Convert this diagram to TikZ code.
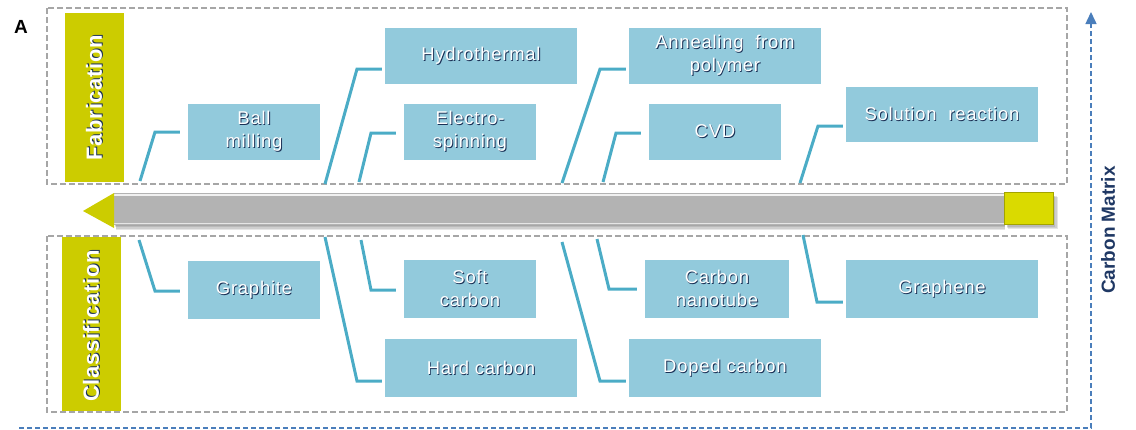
\documentclass[tikz,border=0pt]{standalone}
\usepackage{fontspec}
\setmainfont{Liberation Sans}
\usetikzlibrary{arrows.meta}
\definecolor{boxblue}{HTML}{92CADC}
\definecolor{connc}{HTML}{4BACC6}
\definecolor{olivebar}{HTML}{CCCC00}
\definecolor{sqyellow}{HTML}{DADA00}
\definecolor{dashgray}{HTML}{A6A6A6}
\definecolor{axisblue}{HTML}{4A7EBB}
\definecolor{navy}{HTML}{1F3864}
\definecolor{bargray}{HTML}{B3B3B3}
\newcommand\sh[1]{\leavevmode\rlap{\kern0.9pt\raisebox{-0.8pt}{\color{navy!85!black}#1}}#1}
\tikzset{
  box/.style={fill=boxblue, text=white, inner sep=0pt, align=center,
    font=\fontsize{18.5}{23}\selectfont\addfontfeature{LetterSpace=4}},
  conn/.style={draw=connc, line width=3pt},
  gapS/.style={shorten >=3pt},
  gapL/.style={shorten >=8pt},
  ybar/.style={fill=olivebar, inner sep=0pt},
  vlabel/.style={rotate=90, text=white, font=\fontsize{22}{26}\selectfont\bfseries\addfontfeature{LetterSpace=3}},
  dbox/.style={draw=dashgray, line width=1.3pt, dash pattern=on 6pt off 3pt},
  softshadow/.style={fill=black, opacity=0.10},
}
\begin{document}
\begin{tikzpicture}[x=1pt,y=-1pt]
\useasboundingbox (0,0) rectangle (1136,429);
% panel label
\node[font=\fontsize{19}{22}\selectfont\bfseries] (lblA) at (21,27) {A};
% dashed frames
\draw[dbox] (47,8) rectangle (1067,184);
\draw[dbox] (47,236) rectangle (1067,412);
% side bars
\node[ybar, minimum width=59pt, minimum height=169pt] (fab) at (94.5,97.5) {};
\node[vlabel] (fabt) at (fab.center) {\sh{Fabrication}};
\node[ybar, minimum width=59pt, minimum height=174pt] (cls) at (91.5,324) {};
\node[vlabel] (clst) at (91.5,326) {\sh{Classification}};
% big arrow: soft shadows
\foreach \d in {1,2,3,4} {
  \fill[softshadow] (114+\d*0.5,196+\d*0.4) rectangle (1005,225+\d*1.2);
  \fill[softshadow] (1006+\d*0.4,195+\d*0.4) rectangle (1053+\d*1.2,224+\d*1.3);
}
\fill[bargray] (114,193) rectangle (1005,225);
\draw[white!88!gray, line width=2pt] (114,194.5) -- (1005,194.5);
\draw[white!80!gray, line width=1pt] (114,223.5) -- (1005,223.5);
\fill[olivebar] (83,211) -- (114,193) -- (114,228) -- cycle;
\fill[sqyellow, draw=olivebar!80!black, line width=0.6pt] (1004,192) rectangle (1053,224);
% axis
\coordinate (ax0) at (19,428);
\coordinate (ax1) at (1091,428);
\coordinate (ax2) at (1091,12);
\draw[axisblue, line width=1.5pt, dash pattern=on 5pt off 3pt, -{Triangle[width=11pt,length=12pt]}] (ax0) -- (ax1) -- (ax2);
\node[rotate=90, text=navy, font=\fontsize{19}{22}\selectfont\bfseries] (cm) at (1108,230) {Carbon Matrix};
% boxes
\node[box, minimum width=132pt, minimum height=56pt] (ball) at (254,132) {\sh{Ball}\\\sh{milling}};
\node[box, minimum width=192pt, minimum height=56pt] (hydro) at (481,56) {\sh{Hydrothermal}};
\node[box, minimum width=132pt, minimum height=56pt] (elec) at (470,132) {\sh{Electro-}\\\sh{spinning}};
\node[box, minimum width=192pt, minimum height=56pt] (anneal) at (725,56) {\sh{Annealing\ \ from}\\\sh{polymer}};
\node[box, minimum width=132pt, minimum height=56pt] (cvd) at (715,132) {\sh{CVD}};
\node[box, minimum width=192pt, minimum height=55pt] (sol) at (942,114.5) {\sh{Solution\ \ reaction}};
\node[box, minimum width=132pt, minimum height=58pt] (graphite) at (254,290) {\sh{Graphite}};
\node[box, minimum width=132pt, minimum height=58pt] (soft) at (470,289) {\sh{Soft}\\\sh{carbon}};
\node[box, minimum width=192pt, minimum height=58pt] (hard) at (481,368) {\sh{Hard carbon}};
\node[box, minimum width=144pt, minimum height=58pt] (cnt) at (717,289) {\sh{Carbon}\\\sh{nanotube}};
\node[box, minimum width=192pt, minimum height=58pt] (doped) at (725,368) {\sh{Doped carbon}};
\node[box, minimum width=192pt, minimum height=58pt] (graphene) at (942,289) {\sh{Graphene}};
% connectors
\coordinate (s1) at (140,181);  \coordinate (k1) at (155,132);
\coordinate (s2) at (325,184);  \coordinate (k2) at (357,69);
\coordinate (s3) at (359,182);  \coordinate (k3) at (371,133);
\coordinate (s4) at (562,183);  \coordinate (k4) at (600,69);
\coordinate (s5) at (603,182);  \coordinate (k5) at (616,133);
\coordinate (s6) at (800,183);  \coordinate (k6) at (818,126);
\coordinate (s7) at (139,240);  \coordinate (k7) at (155,291);
\coordinate (s8) at (325,237);  \coordinate (k8) at (357,381);
\coordinate (s9) at (361,240);  \coordinate (k9) at (371,290);
\coordinate (s10) at (562,242); \coordinate (k10) at (600,381);
\coordinate (s11) at (597,239); \coordinate (k11) at (609,289);
\coordinate (s12) at (803,235); \coordinate (k12) at (817,302);
\draw[conn, gapL] (s1) -- (k1) -- (k1 -| ball.west);
\draw[conn, gapS] (s2) -- (k2) -- (k2 -| hydro.west);
\draw[conn, gapL] (s3) -- (k3) -- (k3 -| elec.west);
\draw[conn, gapS] (s4) -- (k4) -- (k4 -| anneal.west);
\draw[conn, gapL] (s5) -- (k5) -- (k5 -| cvd.west);
\draw[conn, gapS] (s6) -- (k6) -- (k6 -| sol.west);
\draw[conn, gapL] (s7) -- (k7) -- (k7 -| graphite.west);
\draw[conn, gapS] (s8) -- (k8) -- (k8 -| hard.west);
\draw[conn, gapL] (s9) -- (k9) -- (k9 -| soft.west);
\draw[conn, gapS] (s10) -- (k10) -- (k10 -| doped.west);
\draw[conn, gapL] (s11) -- (k11) -- (k11 -| cnt.west);
\draw[conn, gapS] (s12) -- (k12) -- (k12 -| graphene.west);
\end{tikzpicture}
\end{document}
